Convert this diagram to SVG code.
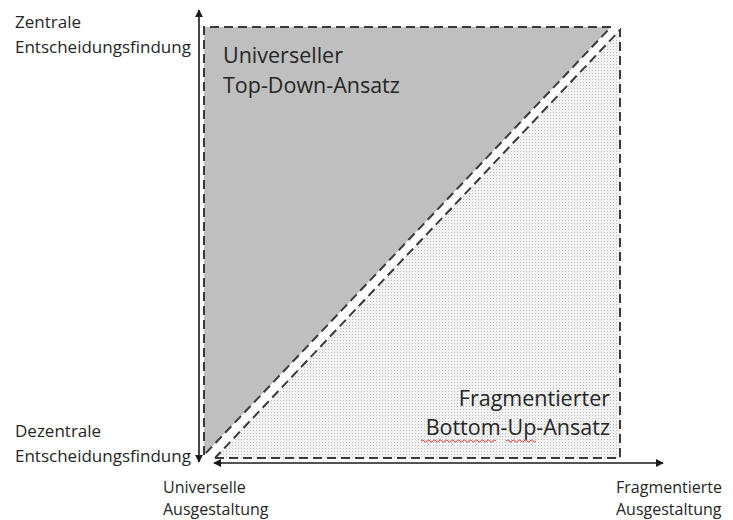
<svg xmlns="http://www.w3.org/2000/svg" width="733" height="520" viewBox="0 0 733 520">
<style>
.lbl{font-family:"Open Sans","Liberation Sans",sans-serif;font-size:17px;fill:#262626}
.lbs{font-family:"Open Sans","Liberation Sans",sans-serif;font-size:16px;fill:#262626}
.big{font-family:"Open Sans","Liberation Sans",sans-serif;font-size:21.5px;fill:#262626}
.dash{fill:none;stroke:#3a3a3a;stroke-width:2;stroke-dasharray:9 5}
.axis{stroke:#1a1a1a;stroke-width:1.6;fill:none}
</style>
<defs>
<pattern id="dots" width="3" height="3" patternUnits="userSpaceOnUse">
<rect width="3" height="3" fill="#f2f2f2"/>
<rect x="1" y="1" width="1" height="1" fill="#bdbdbd"/>
</pattern>
<marker id="ah" viewBox="0 0 10 10" refX="9" refY="5" markerWidth="5" markerHeight="5" orient="auto-start-reverse">
<path d="M0,0 L10,5 L0,10 z" fill="#1a1a1a"/>
</marker>
</defs>
<g id="top-down">
<polygon points="204,27 611,27 204,455" fill="#bfbfbf"/>
<polyline class="dash" points="204,455 204,27 611,27 204,455"/>
<text class="big" x="223" y="63">Universeller</text>
<text class="big" x="223" y="93">Top-Down-Ansatz</text>
</g>
<g id="bottom-up">
<polygon points="620,30 620,458 215,458" fill="url(#dots)"/>
<polyline class="dash" points="215,458 620,458 620,30 215,458"/>
<text class="big" x="610" y="406" text-anchor="end">Fragmentierter</text>
<text class="big" x="610" y="435" text-anchor="end">Bottom-Up-Ansatz</text>
<path d="M421,441 q1.5,-2 3,0 t3,0 t3,0 t3,0 t3,0 t3,0 t3,0 t3,0 t3,0 t3,0 t3,0 t3,0 t3,0 t3,0 t3,0 t3,0 t3,0 t3,0 t3,0 t3,0 t3,0 t3,0 t3,0 t3,0 t3,0 M506,441 q1.5,-2 3,0 t3,0 t3,0 t3,0 t3,0 t3,0 t3,0 t3,0 t3,0 t3,0" fill="none" stroke="#e03030" stroke-width="1"/>
</g>
<g id="axes">
<line class="axis" x1="199" y1="462" x2="199" y2="10" marker-start="url(#ah)" marker-end="url(#ah)"/>
<line class="axis" x1="214" y1="463" x2="663" y2="463" marker-start="url(#ah)" marker-end="url(#ah)"/>
</g>
<g id="labels">
<text class="lbl" x="15" y="28">Zentrale</text>
<text class="lbl" x="15" y="53">Entscheidungsfindung</text>
<text class="lbl" x="15" y="437">Dezentrale</text>
<text class="lbl" x="15" y="462">Entscheidungsfindung</text>
<text class="lbs" x="163" y="493">Universelle</text>
<text class="lbs" x="163" y="515">Ausgestaltung</text>
<text class="lbs" x="616" y="493">Fragmentierte</text>
<text class="lbs" x="616" y="515">Ausgestaltung</text>
</g>
</svg>
